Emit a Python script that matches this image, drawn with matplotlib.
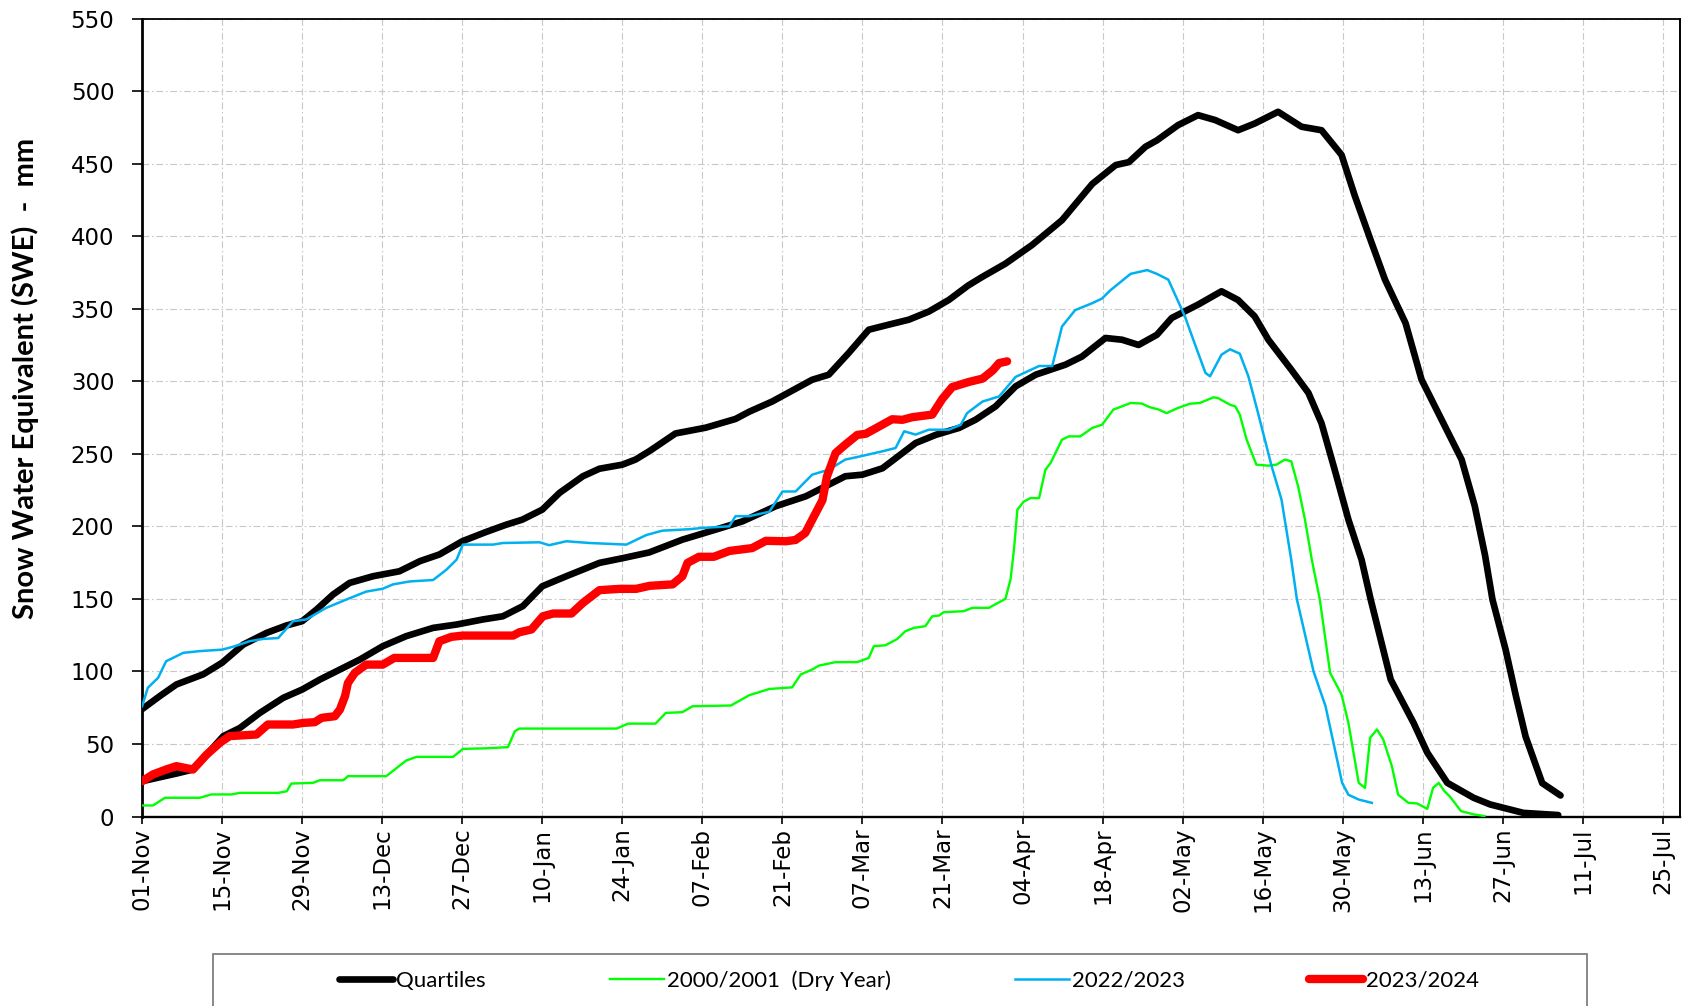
import matplotlib
matplotlib.use("Agg")
import matplotlib.pyplot as plt
from matplotlib.lines import Line2D
from matplotlib.patches import Rectangle

# ---------------- data (day index from 01-Nov, SWE in mm) ----------------
tick_days = [0, 14, 28, 42, 56, 70, 84, 98, 112, 126, 140, 154, 168, 182, 196, 210, 224, 238, 252, 266]
tick_labels = ["01-Nov", "15-Nov", "29-Nov", "13-Dec", "27-Dec", "10-Jan", "24-Jan", "07-Feb",
               "21-Feb", "07-Mar", "21-Mar", "04-Apr", "18-Apr", "02-May", "16-May", "30-May",
               "13-Jun", "27-Jun", "11-Jul", "25-Jul"]
y_ticks = [0, 50, 100, 150, 200, 250, 300, 350, 400, 450, 500, 550]

q_upper_days = [0, 3.1, 6, 10.7, 14, 17.7, 21.8, 25.2, 28, 30.5,
                33.4, 36.3, 40.4, 45, 48.6, 52, 56, 60.1, 63.6, 66.5,
                70, 73, 77.1, 80, 84, 86.3, 88.8, 93.3, 98.6, 103.8,
                106.2, 110.2, 117.2, 120.1, 123.6, 127.1, 130.6, 134.1, 137.6, 141.1,
                144.5, 147, 151, 155.7, 160.9, 166.2, 170.3, 172.6, 175.5, 177.5,
                181.2, 184.7, 187.7, 191.7, 194.6, 198.7, 202.8, 206.3, 209.8, 212.1,
                215, 217.4, 221, 223.8, 227.3, 230.8, 233.1, 234.9, 236.2, 238.5,
                240.3, 242, 244.9, 248.1]
q_upper_vals = [74, 83, 91, 98, 106, 118.5, 126.6, 131.6, 134.6, 142.6,
                153, 161, 165.6, 169, 176, 180.6, 189.7, 196, 201, 204.6,
                211.5, 223, 234.5, 239.7, 242.5, 246, 252, 264, 268, 274,
                279, 286, 301, 304.5, 319.5, 335.5, 339, 342.4, 348, 356,
                366, 372, 381, 394, 411, 436, 449, 451, 461.6, 466,
                476.5, 483.4, 480, 473, 477.6, 485.7, 475.4, 473, 456, 428,
                396, 370, 340, 301, 273.5, 246, 214, 180, 149.5, 115,
                83, 55, 23, 14.5]

q_lower_days = [0, 6, 8.9, 11.3, 14.2, 17.1, 20.6, 24.7, 28, 31.1,
                34.6, 38.1, 42.1, 46.2, 50.9, 55, 59.6, 63.1, 66.6, 70,
                74.2, 80, 84, 88.7, 94.5, 100.3, 105, 110.8, 116.1, 120.1,
                123, 126, 129.5, 133, 135.3, 138.8, 142.9, 145.8, 149.3, 152.8,
                156.3, 161.5, 164.4, 168.5, 171.4, 174.3, 177.5, 180.1, 184.7, 188.8,
                191.7, 194.6, 197, 201, 204, 206.3, 208.6, 211, 213.3, 214.9,
                218.4, 222.4, 224.8, 228.3, 232.9, 235.8, 241.6, 247.7]
q_lower_vals = [24.3, 29.6, 32.4, 42.7, 55.4, 61, 71.4, 81.8, 87.5, 94.4,
                101.3, 108.2, 117.4, 124.3, 130, 132.3, 135.8, 138, 145, 158.7,
                165.6, 174.8, 178, 182, 190.8, 197.7, 203.4, 213.8, 220.7, 228.7,
                234.5, 235.6, 240, 250.5, 257.4, 263, 267.8, 273.5, 282.7, 296.5,
                304.5, 311.4, 317, 329.8, 328.6, 325, 332, 343.6, 352.8, 362,
                356, 344.7, 328.6, 308, 292, 271, 239, 204.6, 177, 149.5,
                94.4, 64.5, 44, 23.2, 12.9, 8.3, 2.5, 1]

dry_days = [0, 1.9, 4, 10.1, 12.1, 15.6, 17.1, 23.8, 25.3, 26.1,
            29.9, 31.1, 35.2, 36, 42.7, 46.2, 48, 54.4, 56.1, 60.2,
            64, 65.2, 66, 83, 85, 89.8, 91.6, 94.5, 96.3, 103,
            106.2, 109.7, 113.7, 115.2, 117.2, 118.4, 121.3, 125.1, 127.1, 128,
            130, 132.1, 133.5, 135, 137, 138.2, 139.4, 140.2, 143.7, 145.2,
            148.1, 151, 151.9, 152.5, 153.1, 154.2, 155.4, 156.9, 158, 158.9,
            160.9, 162.1, 164.1, 166.2, 167.9, 169.9, 171.4, 172.9, 174.9, 176.1,
            177.8, 179.2, 181.2, 183.3, 185, 187.4, 188.2, 190.3, 191.2, 192,
            193.2, 194.9, 197, 198.4, 199.9, 201, 202.2, 203.4, 204.6, 206,
            207.8, 209.8, 211, 212.8, 213.9, 214.8, 216, 217.1, 218.6, 219.7,
            221.5, 223, 224.8, 225.8, 226.8, 227.8, 228.7, 230.7, 233, 234.8]
dry_vals = [7.6, 7.6, 12.9, 12.9, 15.2, 15.2, 16.3, 16.3, 17.4, 22.7,
            23.2, 25, 25, 27.8, 27.8, 38.6, 41.1, 41.1, 46.6, 47,
            47.8, 58.8, 60.6, 60.6, 64, 64, 71.4, 71.9, 76, 76.5,
            83.6, 87.9, 89, 97.9, 101.3, 104, 106.4, 106.4, 109.3, 117.4,
            118, 122.4, 127.7, 130, 131.2, 138, 138.5, 140.8, 141.5, 143.8,
            143.8, 150, 163.3, 184, 211.5, 217, 219.5, 219.5, 239, 243.6,
            259.7, 262, 262, 267.8, 270, 280.5, 282.7, 285, 284.6, 282.3,
            280.5, 278, 281.6, 284.5, 285, 288.9, 288.4, 283.8, 282.7, 277,
            259.7, 242.5, 241.8, 242.5, 246, 244.8, 227.6, 204.6, 177, 149.5,
            99, 84, 64.5, 23.2, 19.7, 54.2, 60, 53, 34.7, 15,
            9.4, 9, 5.3, 19.7, 23.2, 17.4, 14, 3.7, 1.4, 0.3]

y2223_days = [0, 1, 2.8, 4.2, 7.2, 10.1, 14, 15.9, 18.8, 21.2,
              23.8, 26.4, 28.7, 32.2, 35.7, 39.2, 42.1, 43.9, 46.8, 50.9,
              53.2, 55, 56.1, 61.4, 63.1, 69.5, 71.2, 74.2, 78.3, 84.7,
              88.2, 91, 95.7, 98, 102.7, 103.8, 106.2, 109.7, 112, 114.3,
              117.2, 120.1, 123, 125.6, 129.5, 131.8, 133.3, 135.3, 137.6, 141.1,
              143.2, 144.3, 147, 149.9, 152.8, 156.9, 159.2, 160.9, 163.2, 166.2,
              167.9, 169.4, 172.9, 175.8, 177.5, 179.5, 182.4, 184.2, 186, 186.8,
              188.8, 190.3, 192, 193.5, 195.2, 197.6, 199.3, 201, 202, 204.9,
              207, 209.9, 211, 212.8, 215.1]
y2223_vals = [76, 88.7, 95.6, 107, 112.8, 114, 115, 117, 120.8, 122.4,
              123, 134.6, 135.8, 143.8, 149.5, 155, 157, 160, 162, 163,
              170, 177, 187.4, 187.4, 188.5, 189, 187, 189.7, 188.5, 187.4,
              194, 197, 198, 198.9, 200, 207, 207, 210, 224, 224,
              235.6, 239, 246, 248.2, 251.7, 254, 265.5, 263.2, 266.6, 266.6,
              270, 278, 286, 289.5, 303, 310.5, 310.5, 337.7, 349, 353.8,
              357, 362.8, 374, 376.6, 374, 370, 344.7, 325, 305.7, 303.4,
              318.3, 322, 319, 303.4, 278, 241, 218.4, 177, 149.5, 100,
              76, 23.2, 15, 11.7, 9.4]

y2324_days = [0, 1.9, 4.2, 6, 8.9, 11.3, 13.6, 15.3, 20, 22,
              26.4, 28.2, 30.2, 31.4, 33.7, 34.6, 35.5, 36, 37.2, 39.2,
              42.1, 44.1, 50.9, 52, 54.1, 56.1, 64.9, 66, 68.1, 70.1,
              71.9, 75.1, 77.1, 80, 83.5, 86.4, 88.8, 92.8, 94.5, 95.4,
              97.4, 100, 102.7, 106.7, 109.1, 112.6, 114.3, 116, 117.8, 119,
              119.8, 121.3, 123, 125.1, 126.6, 128.9, 131.2, 133, 134.7, 138.2,
              140, 141.7, 144.6, 147, 148.8, 149.9, 151.3]
y2324_vals = [24.3, 29, 32.4, 34.7, 32.4, 42.7, 50.8, 55.4, 56.5, 63.4,
              63.4, 64.5, 65, 68, 69.1, 73.7, 83, 92, 99, 104.7,
              104.7, 109.3, 109.3, 120.8, 123.8, 124.7, 124.7, 127, 128.9, 138,
              139.9, 139.9, 147.2, 156, 156.9, 156.9, 159, 160, 165.6, 174.8,
              179, 179, 183, 185, 190, 189.7, 190.6, 195.4, 209, 218,
              234.5, 250.5, 256.3, 263, 263.8, 268.8, 273.8, 273.4, 275.2, 277,
              288, 296, 299.5, 301.8, 307.5, 312.5, 313.7]

labels = ["Quartiles", "2000/2001  (Dry Year)", "2022/2023", "2023/2024"]
colors = ["#000000", "#00FF00", "#00B0F0", "#FF0000"]

# ---------------- figure ----------------
W, H = 1688, 1006
fig = plt.figure(figsize=(W / 100, H / 100), dpi=100)
ax_l, ax_r, ax_t, ax_b = 142.1, 1680.0, 18.5, 816.5
ax = fig.add_axes([ax_l / W, 1 - ax_b / H, (ax_r - ax_l) / W, (ax_b - ax_t) / H])

ax.plot(q_upper_days, q_upper_vals, color=colors[0], lw=4.8, solid_joinstyle="round",
        solid_capstyle="round", zorder=3)
ax.plot(q_lower_days, q_lower_vals, color=colors[0], lw=4.8, solid_joinstyle="round",
        solid_capstyle="round", zorder=3)
ax.plot(dry_days, dry_vals, color=colors[1], lw=1.7, solid_joinstyle="round", zorder=4)
ax.plot(y2223_days, y2223_vals, color=colors[2], lw=1.8, solid_joinstyle="round", zorder=5)
ax.plot(y2324_days, y2324_vals, color=colors[3], lw=6.0, solid_joinstyle="round",
        solid_capstyle="round", zorder=6)

ax.set_xlim(0, 269)
ax.set_ylim(0, 550)
ax.set_xticks(tick_days)
ax.set_xticklabels(tick_labels, rotation=90, fontsize=16.5, family="DejaVu Sans")
ax.set_yticks(y_ticks)
ax.set_yticklabels([str(v) for v in y_ticks], fontsize=16.5, family="DejaVu Sans")
ax.tick_params(axis="x", direction="out", length=5, width=1.2, pad=3)
ax.tick_params(axis="y", direction="out", length=7, width=1.2, pad=13)

ax.grid(True, color="#C8C8C8", lw=0.8, linestyle=(0, (6, 2.5, 1.5, 2.5)), zorder=0)
ax.set_axisbelow(True)

ax.spines["left"].set_linewidth(2.0)
ax.spines["bottom"].set_linewidth(1.7)
ax.spines["top"].set_linewidth(1.3)
ax.spines["right"].set_linewidth(1.4)

label_font = ["Lato", "DejaVu Sans"]
ax.set_ylabel("Snow Water Equivalent (SWE)  -  mm", fontsize=21, fontweight="bold",
              family=label_font)
ax.yaxis.set_label_coords((39 - ax_l) / (ax_r - ax_l), (ax_b - 378) / (ax_b - ax_t))

# ---------------- legend ----------------
fig.add_artist(Rectangle((213 / W, -0.05), (1587 - 213) / W, 1 - 953.8 / H + 0.05,
                         transform=fig.transFigure, facecolor="white",
                         edgecolor="#7F7F7F", lw=1.3, clip_on=False))
handles = [Line2D([], [], color=colors[0], lw=4.8, solid_capstyle="round"),
           Line2D([], [], color=colors[1], lw=1.7),
           Line2D([], [], color=colors[2], lw=1.8),
           Line2D([], [], color=colors[3], lw=6.0, solid_capstyle="round")]
fs = 16
fs_px = fs * 100 / 72
fig.legend(handles, labels, loc="center left", bbox_to_anchor=(339 / W, 1 - 980.7 / H),
           ncol=4, frameon=False, prop={"family": label_font, "size": fs},
           handlelength=54 / fs_px, handletextpad=3 / fs_px, columnspacing=124 / fs_px,
           borderpad=0, borderaxespad=0)

fig.savefig("out.png", dpi=100)
